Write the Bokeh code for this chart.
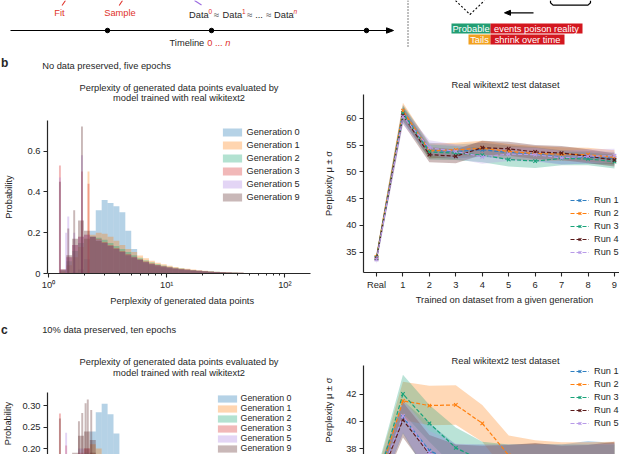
import numpy as np
from bokeh.plotting import figure
from bokeh.models import Range1d, Legend, LegendItem, FixedTicker
from bokeh.layouts import column, row
from bokeh.embed import file_html
from bokeh.resources import INLINE
from bokeh.core.properties import value

FONT = "Liberation Sans"
INK = "#262626"
RED = "#e0322a"

# ---------------- data ----------------
generations = ["Generation 0", "Generation 1", "Generation 2", "Generation 3", "Generation 5", "Generation 9"]
gen_colors = ["#1f77b4", "#ff7f0e", "#17a673", "#d62728", "#a97fe0", "#5a2828"]

# histogram bins: 20 log-spaced bins per decade from 1 to 100
bin_edges = 10.0 ** (np.arange(41) / 20)

hist_b_gen0 = [0, 0, 0, 0, 0.005, 0.02, 0.07, 0.21, 0.31, 0.36, 0.345, 0.33, 0.30, 0.21, 0.12, 0.07, 0.05, 0.04, 0.034, 0.029, 0.025, 0.021, 0.018, 0.015, 0.013, 0.011, 0.009, 0.008, 0.0065, 0.0055, 0.0045, 0.0035, 0.003, 0.0025, 0.002, 0.0015, 0.001, 0.0008, 0.0005, 0.0003]
hist_b_gen1 = [0, 0, 0.01, 0.04, 0.08, 0.13, 0.17, 0.19, 0.2, 0.195, 0.18, 0.16, 0.14, 0.12, 0.105, 0.088, 0.075, 0.063, 0.053, 0.045, 0.038, 0.032, 0.027, 0.023, 0.019, 0.016, 0.013, 0.011, 0.009, 0.0075, 0.006, 0.005, 0.004, 0.003, 0.0025, 0.002, 0.0015, 0.001, 0.0007, 0.0004]
hist_b_gen2 = [0, 0, 0.015, 0.06, 0.11, 0.15, 0.17, 0.18, 0.175, 0.165, 0.15, 0.135, 0.12, 0.105, 0.09, 0.077, 0.065, 0.055, 0.046, 0.039, 0.033, 0.028, 0.024, 0.02, 0.017, 0.014, 0.012, 0.01, 0.0082, 0.0068, 0.0055, 0.0045, 0.0036, 0.0029, 0.0023, 0.0018, 0.0013, 0.0009, 0.0006, 0.0003]
hist_b_gen3 = [0, 0, 0.02, 0.08, 0.14, 0.18, 0.19, 0.18, 0.17, 0.155, 0.14, 0.125, 0.11, 0.095, 0.082, 0.07, 0.06, 0.05, 0.042, 0.036, 0.031, 0.026, 0.022, 0.019, 0.016, 0.013, 0.011, 0.009, 0.0075, 0.006, 0.005, 0.004, 0.0032, 0.0026, 0.002, 0.0015, 0.0011, 0.0008, 0.0005, 0.0003]
hist_b_gen5 = [0, 0, 0.02, 0.08, 0.14, 0.18, 0.19, 0.18, 0.165, 0.15, 0.135, 0.12, 0.105, 0.09, 0.078, 0.066, 0.056, 0.047, 0.04, 0.034, 0.029, 0.025, 0.021, 0.018, 0.015, 0.013, 0.011, 0.009, 0.0075, 0.006, 0.005, 0.004, 0.0032, 0.0026, 0.002, 0.0015, 0.0011, 0.0008, 0.0005, 0.0003]
hist_b_gen9 = [0, 0, 0.02, 0.09, 0.17, 0.26, 0.21, 0.18, 0.16, 0.15, 0.135, 0.12, 0.105, 0.09, 0.078, 0.066, 0.056, 0.047, 0.04, 0.034, 0.029, 0.025, 0.021, 0.018, 0.015, 0.013, 0.011, 0.009, 0.0075, 0.006, 0.005, 0.004, 0.0032, 0.0026, 0.002, 0.0015, 0.0011, 0.0008, 0.0005, 0.0003]

spike_b_ppl = [1.25, 1.41, 1.47, 1.65, 1.92, 2.18]
spike_b_gen0 = [0, 0, 0, 0, 0, 0]
spike_b_gen1 = [0, 0, 0, 0, 0, 0.50]
spike_b_gen2 = [0, 0, 0, 0, 0, 0]
spike_b_gen3 = [0.53, 0, 0, 0, 0.50, 0.44]
spike_b_gen5 = [0.47, 0.20, 0.28, 0.20, 0.58, 0]
spike_b_gen9 = [0.45, 0, 0.22, 0.31, 0.72, 0]

hist_c_gen0 = [0, 0, 0, 0, 0.01, 0.03, 0.1, 0.24, 0.285, 0.305, 0.28, 0.235, 0.17, 0.11, 0.07, 0.045, 0.033, 0.026, 0.021, 0.017, 0.014, 0.012, 0.01, 0.008, 0.0065, 0.0055, 0.0045, 0.0036, 0.003, 0.0024, 0.0019, 0.0015, 0.0012, 0.0009, 0.0007, 0.0005, 0.0004, 0.0003, 0.0002, 0.0001]
hist_c_gen1 = [0, 0, 0.01, 0.04, 0.12, 0.17, 0.2, 0.21, 0.2, 0.18, 0.16, 0.14, 0.12, 0.1, 0.08, 0.065, 0.052, 0.042, 0.034, 0.028, 0.023, 0.019, 0.016, 0.013, 0.011, 0.009, 0.0075, 0.006, 0.005, 0.004, 0.0032, 0.0026, 0.002, 0.0016, 0.0012, 0.0009, 0.0007, 0.0005, 0.0003, 0.0002]
hist_c_gen2 = [0, 0, 0.01, 0.05, 0.12, 0.17, 0.19, 0.19, 0.18, 0.16, 0.145, 0.125, 0.11, 0.09, 0.075, 0.06, 0.048, 0.039, 0.032, 0.026, 0.021, 0.017, 0.014, 0.012, 0.01, 0.008, 0.0065, 0.0053, 0.0043, 0.0035, 0.0028, 0.0022, 0.0017, 0.0013, 0.001, 0.0008, 0.0006, 0.0004, 0.0003, 0.0002]
hist_c_gen3 = [0, 0, 0.02, 0.07, 0.15, 0.19, 0.2, 0.19, 0.17, 0.15, 0.135, 0.12, 0.1, 0.085, 0.07, 0.058, 0.047, 0.038, 0.031, 0.025, 0.02, 0.017, 0.014, 0.011, 0.009, 0.0075, 0.006, 0.005, 0.004, 0.0032, 0.0026, 0.002, 0.0016, 0.0012, 0.0009, 0.0007, 0.0005, 0.0004, 0.0003, 0.0002]
hist_c_gen5 = [0, 0, 0.02, 0.07, 0.16, 0.2, 0.2, 0.18, 0.16, 0.145, 0.13, 0.115, 0.1, 0.085, 0.07, 0.058, 0.047, 0.038, 0.031, 0.025, 0.02, 0.017, 0.014, 0.011, 0.009, 0.0075, 0.006, 0.005, 0.004, 0.0032, 0.0026, 0.002, 0.0016, 0.0012, 0.0009, 0.0007, 0.0005, 0.0004, 0.0003, 0.0002]
hist_c_gen9 = [0, 0, 0.02, 0.06, 0.19, 0.23, 0.24, 0.22, 0.17, 0.14, 0.12, 0.1, 0.085, 0.07, 0.06, 0.05, 0.041, 0.034, 0.028, 0.023, 0.019, 0.016, 0.013, 0.011, 0.009, 0.0075, 0.006, 0.005, 0.004, 0.0032, 0.0026, 0.002, 0.0016, 0.0012, 0.0009, 0.0007, 0.0005, 0.0004, 0.0003, 0.0002]

spike_c_ppl = [1.25, 1.41, 1.59, 1.81, 1.93, 2.06, 2.15, 2.30]
spike_c_gen0 = [0, 0, 0, 0, 0, 0, 0, 0]
spike_c_gen1 = [0, 0, 0.183, 0, 0, 0, 0, 0]
spike_c_gen2 = [0, 0, 0, 0, 0, 0, 0, 0]
spike_c_gen3 = [0.282, 0.207, 0, 0, 0, 0, 0, 0]
spike_c_gen5 = [0, 0.237, 0, 0, 0, 0, 0, 0]
spike_c_gen9 = [0.27, 0, 0, 0.264, 0.283, 0.306, 0.315, 0.29]

gen_ticks = [0, 1, 2, 3, 4, 5, 6, 7, 8, 9]
gen_tick_labels = ["Real", "1", "2", "3", "4", "5", "6", "7", "8", "9"]
runs = ["Run 1", "Run 2", "Run 3", "Run 4", "Run 5"]
run_colors = ["#2f7fc1", "#ff7f0e", "#1aa37a", "#5a1a1a", "#b89be8"]

run1_b = [34.0, 61.0, 54.0, 53.8, 54.1, 53.6, 53.3, 52.7, 52.7, 52.5]
run2_b = [34.1, 61.4, 53.9, 54.1, 54.4, 53.8, 53.4, 53.3, 53.2, 52.7]
run3_b = [33.9, 60.9, 53.7, 53.5, 53.1, 52.3, 52.0, 52.5, 52.4, 51.9]
run4_b = [33.8, 60.5, 53.2, 52.9, 54.5, 54.3, 53.7, 53.5, 52.9, 52.2]
run5_b = [33.6, 60.3, 54.5, 53.8, 52.8, 53.3, 53.2, 52.6, 52.9, 53.0]
std1_b = [0.8, 1.5, 1.4, 1.3, 1.3, 1.3, 1.3, 1.3, 1.2, 1.2]
std2_b = [0.8, 1.5, 1.4, 1.3, 1.4, 1.4, 1.4, 1.3, 1.3, 1.3]
std3_b = [0.8, 1.4, 1.4, 1.3, 1.3, 1.3, 1.3, 1.3, 1.2, 1.3]
std4_b = [0.8, 1.5, 1.4, 1.3, 1.3, 1.3, 1.3, 1.3, 1.3, 1.2]
std5_b = [0.8, 1.5, 1.4, 1.3, 1.3, 1.3, 1.3, 1.3, 1.3, 1.3]

run1_c = [35.2, 40.3, 37.85, 36.9, 36.9, 36.9, 36.95, 36.9, 37.15, 37.0]
run2_c = [35.3, 41.5, 41.15, 41.2, 39.85, 37.5, 37.15, 36.95, 36.9, 36.9]
run3_c = [35.4, 42.0, 39.85, 38.05, 37.1, 36.9, 36.9, 36.9, 36.9, 36.9]
run4_c = [35.1, 40.1, 37.6, 36.9, 36.9, 36.95, 37.1, 36.9, 36.95, 37.2]
run5_c = [35.2, 40.4, 37.7, 36.95, 36.9, 36.9, 36.9, 36.9, 36.9, 36.95]
std1_c = [0.9, 1.2, 2.0, 1.4, 1.4, 1.4, 1.4, 1.4, 1.4, 1.4]
std2_c = [0.9, 1.4, 1.45, 1.45, 1.35, 1.45, 1.45, 1.5, 1.55, 1.6]
std3_c = [0.9, 1.42, 1.35, 1.5, 1.4, 1.4, 1.4, 1.4, 1.4, 1.4]
std4_c = [0.9, 1.3, 1.4, 1.4, 1.3, 1.3, 1.3, 1.3, 1.3, 1.3]
std5_c = [0.9, 1.2, 1.6, 1.4, 1.4, 1.4, 1.4, 1.4, 1.4, 1.4]


# ---------------- helpers ----------------
def style(p):
    p.title.visible = False
    p.grid.visible = False
    p.outline_line_color = None
    for ax in p.axis:
        ax.axis_line_color = INK
        ax.axis_line_width = 1.2
        ax.major_tick_line_color = INK
        ax.major_tick_line_width = 1.1
        ax.major_tick_in = 0
        ax.major_tick_out = 4
        ax.minor_tick_in = 0
        ax.minor_tick_out = 2
        ax.minor_tick_line_color = None
        ax.major_label_text_font = FONT
        ax.major_label_text_font_size = "9.3px"
        ax.major_label_text_color = INK
        ax.major_label_standoff = 3
        ax.axis_label_text_font = FONT
        ax.axis_label_text_font_size = "9.3px"
        ax.axis_label_text_font_style = "normal"
        ax.axis_label_text_color = INK


def make_fig(w, h, xr, yr, borders, log_x=False):
    p = figure(width=w, height=h, x_range=xr, y_range=yr,
               x_axis_type="log" if log_x else "linear",
               output_backend="svg", toolbar_location=None, frame_align=False,
               min_border_left=borders[0], min_border_right=borders[1],
               min_border_top=borders[2], min_border_bottom=borders[3])
    style(p)
    return p


def text_fig(x0, x1, y0, y1):
    # a strip of the page whose coordinates are page pixels (y downwards)
    p = figure(width=x1 - x0, height=y1 - y0, x_range=Range1d(x0, x1), y_range=Range1d(y1, y0),
               output_backend="svg", toolbar_location=None, min_border=0, frame_align=False)
    p.axis.visible = False
    p.grid.visible = False
    p.title.visible = False
    p.outline_line_color = None
    return p


def put(p, x, y, t, color=INK, size="9.3px", align="center", fstyle="normal"):
    p.text(x=[x], y=[y], text=[t], text_font=value(FONT), text_font_size=size,
           text_color=color, text_align=align, text_baseline="middle", text_font_style=fstyle)


def fx_log(px):
    return 10 ** ((px - 44) / 120)


def fx_gen(px):
    return (px - 376) / 26.44


def histogram(p, hist_lists, spike_ppl, spike_lists, legend_loc, standoff, gh, sp_, fs):
    items = []
    sp = np.array(spike_ppl)
    for name, col, hv, sv in zip(generations, gen_colors, hist_lists, spike_lists):
        r = p.quad(left=bin_edges[:-1], right=bin_edges[1:], bottom=0, top=hv,
                   fill_color=col, fill_alpha=0.33, line_color=None)
        sv = np.array(sv)
        m = sv > 0
        if m.any():
            p.quad(left=sp[m] / 1.019, right=sp[m] * 1.019, bottom=0, top=sv[m],
                   fill_color=col, fill_alpha=0.33, line_color=None)
        items.append(LegendItem(label=name, renderers=[r]))
    leg = Legend(items=items, location=legend_loc, glyph_width=24, glyph_height=gh,
                 label_height=gh, spacing=sp_, padding=0, margin=0, label_standoff=standoff,
                 border_line_color=None, background_fill_alpha=0,
                 label_text_font=FONT, label_text_font_size=fs, label_text_color=INK)
    p.add_layout(leg)
    p.xaxis.ticker = FixedTicker(ticks=[1, 10, 100],
                                 minor_ticks=[2, 3, 4, 5, 6, 7, 8, 9, 20, 30, 40, 50, 60, 70, 80, 90, 200])
    p.xaxis.major_label_overrides = {1: "10\u2070", 10: "10\u00b9", 100: "10\u00b2"}
    p.xaxis.minor_tick_line_color = INK
    p.xaxis.major_label_standoff = 2


def runs_plot(p, means, stds, legend_loc):
    x = np.array(gen_ticks)
    for col, m, s in zip(run_colors, means, stds):
        m = np.array(m)
        s = np.array(s)
        p.varea(x=x, y1=m - s, y2=m + s, fill_color=col, fill_alpha=0.3)
    items = []
    for name, col, m in zip(runs, run_colors, means):
        l = p.line(x, m, line_color=col, line_width=1.2, line_dash="4 2")
        s = p.scatter(x, m, marker="x", size=5, line_color=col, line_width=1.1)
        items.append(LegendItem(label=name, renderers=[l, s]))
    leg = Legend(items=items, location=legend_loc, glyph_width=19, glyph_height=10,
                 label_height=10, spacing=3, padding=0, margin=0, label_standoff=5,
                 border_line_color=None, background_fill_alpha=0,
                 label_text_font=FONT, label_text_font_size="9.2px", label_text_color=INK)
    p.add_layout(leg)
    p.xaxis.ticker = FixedTicker(ticks=gen_ticks)
    p.xaxis.major_label_overrides = dict(zip(gen_ticks, gen_tick_labels))
    p.yaxis.axis_label = "Perplexity \u03bc \u00b1 \u03c3"
    p.yaxis.axis_label_standoff = 9


# ---------------- top strip (schematic, page pixels) ----------------
top = text_fig(0, 619, 0, 72)
top.line([65, 61.5], [0, 5], line_color=RED, line_width=1.1)
top.line([122, 118.7], [0, 5], line_color=RED, line_width=1.1)
top.line([194, 201], [0, 4.5], line_color="#9b6be0", line_width=1.1)
put(top, 59, 12.3, "Fit", RED)
put(top, 119.5, 12.3, "Sample", RED)
put(top, 188.5, 14, "Data", align="left")
put(top, 207.9, 10.8, "0", RED, size="6.5px", align="left")
put(top, 215.8, 14, "\u2248")
put(top, 222, 14, "Data", align="left")
put(top, 241.4, 10.8, "1", RED, size="6.5px", align="left")
put(top, 249, 14, "\u2248")
put(top, 258.5, 14, "...")
put(top, 268, 14, "\u2248")
put(top, 273.6, 14, "Data", align="left")
put(top, 293.0, 10.8, "n", RED, size="6.5px", align="left", fstyle="italic")
top.line([10, 387], [30, 30], line_color="black", line_width=1.2)
top.patch([386, 393, 386], [27.3, 30, 32.7], color="black")
top.scatter([107, 211, 366], [30, 30, 30], size=4.5, color="black")
put(top, 169, 42.7, "Timeline ", align="left")
put(top, 206.7, 42.7, "0 ... ", RED, align="left")
put(top, 224.8, 42.7, "n", RED, align="left", fstyle="italic")
top.line([407.5, 407.5], [0, 46.7], line_color="black", line_width=1, line_dash="1 2")
top.line([455, 469.5, 484], [0, 14, 0], line_color="black", line_width=1.1, line_dash="2 2")
top.line([550, 550, 552.5, 587.5, 590, 590], [0, 2.3, 4.6, 4.6, 2.3, 0], line_color="black", line_width=1.2)
top.line([509, 533], [12.3, 12.3], line_color="black", line_width=1.2)
top.patch([504, 510, 510], [12.3, 9.8, 14.8], color="black")
top.quad(left=[451, 490, 468, 490], right=[490, 582, 490, 564], top=[23, 23, 34, 34],
         bottom=[33, 33, 44, 44], fill_color=["#239e73", "#d3171f", "#f2a01e", "#d3171f"],
         line_color=None)
put(top, 470.5, 28, "Probable", "white")
put(top, 536, 28, "events poison reality", "white")
put(top, 479, 39, "Tails", "white")
put(top, 527, 39, "shrink over time", "white")
put(top, 0.5, 62.5, "b", size="12px", align="left", fstyle="bold")
put(top, 41.7, 65, "No data preserved, five epochs", align="left")

# ---------------- left column ----------------
bl_head = text_fig(0, 320, 72, 120)
put(bl_head, 178.5, 87.3, "Perplexity of generated data points evaluated by")
put(bl_head, 178.5, 97.7, "model trained with real wikitext2")

bl = make_fig(320, 172, Range1d(fx_log(43), fx_log(310)), Range1d(0, 153 / 204), (43, 10, 0, 19), log_x=True)
histogram(bl, [hist_b_gen0, hist_b_gen1, hist_b_gen2, hist_b_gen3, hist_b_gen5, hist_b_gen9],
          spike_b_ppl, [spike_b_gen0, spike_b_gen1, spike_b_gen2, spike_b_gen3, spike_b_gen5, spike_b_gen9],
          (172.6, 70.7), 3, 10, 3, "9.2px")
bl.yaxis.ticker = FixedTicker(ticks=[0, 0.2, 0.4, 0.6])
bl.yaxis.major_label_overrides = {0: "0", 0.2: "0.2", 0.4: "0.4", 0.6: "0.6"}
bl.yaxis.axis_label = "Probability"
bl.yaxis.axis_label_standoff = 11

mid_l = text_fig(0, 320, 292, 392)
put(mid_l, 181.7, 300.7, "Perplexity of generated data points")
put(mid_l, 0.5, 329.5, "c", size="12px", align="left", fstyle="bold")
put(mid_l, 41.7, 329, "10% data preserved, ten epochs", align="left")
put(mid_l, 178.5, 361.7, "Perplexity of generated data points evaluated by")
put(mid_l, 178.5, 372.3, "model trained with real wikitext2")

cl = make_fig(320, 62, Range1d(fx_log(43), fx_log(310)),
              Range1d(0.30 - (454 - 405.3) / 427, 0.30 + (405.3 - 392) / 427), (43, 10, 0, 0), log_x=True)
histogram(cl, [hist_c_gen0, hist_c_gen1, hist_c_gen2, hist_c_gen3, hist_c_gen5, hist_c_gen9],
          spike_c_ppl, [spike_c_gen0, spike_c_gen1, spike_c_gen2, spike_c_gen3, spike_c_gen5, spike_c_gen9],
          (167.6, 1), 2, 9, 0, "8.8px")
cl.xaxis.visible = False
cl.yaxis.ticker = FixedTicker(ticks=[0.20, 0.25, 0.30])
cl.yaxis.major_label_overrides = {0.2: "0.20", 0.25: "0.25", 0.3: "0.30"}
cl.yaxis.axis_label = "Probability"
cl.yaxis.axis_label_standoff = 6

# ---------------- right column ----------------
br_head = text_fig(320, 619, 72, 94)
put(br_head, 505, 84, "Real wikitext2 test dataset")

br = make_fig(299, 198, Range1d(fx_gen(363), fx_gen(619)),
              Range1d(60 - (272 - 117.7) / 5.36, 60 + (117.7 - 94) / 5.36), (43, 0, 0, 20))
runs_plot(br, [run1_b, run2_b, run3_b, run4_b, run5_b], [std1_b, std2_b, std3_b, std4_b, std5_b], (207, 15))
br.yaxis.ticker = FixedTicker(ticks=[35, 40, 45, 50, 55, 60])

mid_r = text_fig(320, 619, 292, 365)
put(mid_r, 504, 299.3, "Trained on dataset from a given generation")
put(mid_r, 505, 360, "Real wikitext2 test dataset")

cr = make_fig(299, 89, Range1d(fx_gen(363), fx_gen(619)),
              Range1d(42 - (454 - 393.5) / 13.625, 42 + (393.5 - 365) / 13.625), (43, 0, 0, 0))
runs_plot(cr, [run1_c, run2_c, run3_c, run4_c, run5_c], [std1_c, std2_c, std3_c, std4_c, std5_c], (207, 25.7))
cr.xaxis.visible = False
cr.yaxis.ticker = FixedTicker(ticks=[38, 40, 42])

left_col = column(bl_head, bl, mid_l, cl)
right_col = column(br_head, br, mid_r, cr)
layout = column(top, row(left_col, right_col))
open("out.html", "w").write(file_html(layout, INLINE))
